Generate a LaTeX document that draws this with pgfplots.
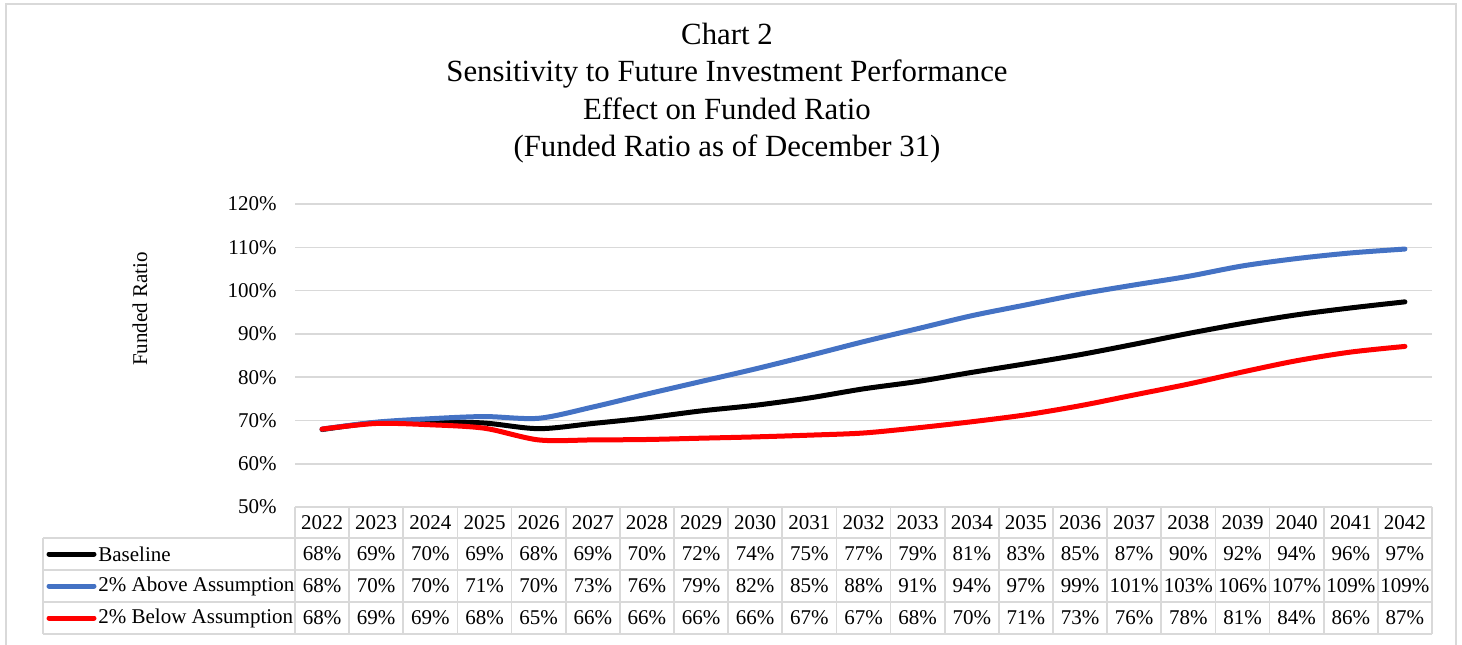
\documentclass[border=0pt]{standalone}
\usepackage{pgfplots}
\usepackage{pgfplotstable}
\pgfplotsset{compat=1.18}
\usepackage{fontspec}
\setmainfont{Liberation Serif}
\definecolor{gridgray}{HTML}{D9D9D9}
\definecolor{xlblue}{HTML}{4472C4}
\definecolor{xlred}{HTML}{FF0000}
\newcommand\tf{\fontsize{10.5}{12.6}\selectfont}
\newcommand\ttlf{\fontsize{15.4}{18}\selectfont}

\pgfplotstableread{
i year base above below
0 2022 67.9 68.0 68.0
1 2023 69.5 69.6 69.3
2 2024 69.7 70.4 69.0
3 2025 69.4 70.9 68.2
4 2026 68.1 70.5 65.5
5 2027 69.3 73.1 65.5
6 2028 70.6 76.1 65.6
7 2029 72.2 79.0 65.9
8 2030 73.5 81.9 66.2
9 2031 75.2 85.0 66.6
10 2032 77.3 88.2 67.1
11 2033 79.0 91.2 68.3
12 2034 81.1 94.2 69.7
13 2035 83.1 96.7 71.3
14 2036 85.2 99.2 73.4
15 2037 87.6 101.3 75.9
16 2038 90.1 103.3 78.4
17 2039 92.4 105.7 81.2
18 2040 94.4 107.4 83.8
19 2041 96.0 108.7 85.8
20 2042 97.4 109.6 87.1
}\data

\begin{document}
\begin{tikzpicture}
\begin{axis}[
  at={(147.5pt,-253.5pt)}, anchor=south west,
  scale only axis, width=568.5pt, height=151.5pt,
  xmin=-0.5, xmax=20.5, ymin=50, ymax=120,
  xtick=\empty,
  ytick={50,60,70,80,90,100,110,120},
  yticklabels={50\%,60\%,70\%,80\%,90\%,100\%,110\%,120\%},
  yticklabel style={font=\tf, anchor=east, inner sep=0pt, xshift=-9pt},
  /pgf/number format/assume math mode=true,
  ymajorgrids, grid style={gridgray, line width=0.8pt},
  axis line style={draw=none},
  major tick length=0pt,
  clip=false,
]
\addplot[black, line width=2.5pt, smooth, tension=0.5, line cap=round] table[x=i, y=base] {\data};
\addplot[xlblue, line width=2.5pt, smooth, tension=0.5, line cap=round] table[x=i, y=above] {\data};
\addplot[xlred, line width=2.5pt, smooth, tension=0.5, line cap=round] table[x=i, y=below] {\data};
\end{axis}

\begin{scope}[x=0.5pt, y=-0.5pt]
  % outer frame
  \draw[gridgray, line width=0.85pt] (6,660) -- (6,4) -- (1456,4) -- (1456,660);
  % title
  \node[anchor=base, inner sep=0, font=\ttlf] at (727,44) {Chart 2};
  \node[anchor=base, inner sep=0, font=\ttlf] at (727,81.5) {Sensitivity to Future Investment Performance};
  \node[anchor=base, inner sep=0, font=\ttlf] at (727,119) {Effect on Funded Ratio};
  \node[anchor=base, inner sep=0, font=\ttlf] at (727,156.5) {(Funded Ratio as of December 31)};
  % axis title
  \node[rotate=90, font=\tf] at (140,309) {Funded Ratio};
  % data table grid
  \begin{scope}[gridgray, line width=0.9pt]
    \draw (295,507) -- (1432,507);
    \foreach \yy in {538,570,602,634} \draw (43,\yy) -- (1432,\yy);
    \draw (43,538) -- (43,634);
    \foreach \k in {0,...,21} \draw ({295+54.142857*\k},507) -- ({295+54.142857*\k},634);
  \end{scope}
  % header years
  \foreach \yr [count=\k from 0] in {2022,2023,2024,2025,2026,2027,2028,2029,2030,2031,2032,2033,2034,2035,2036,2037,2038,2039,2040,2041,2042}
    \node[font=\tf] at ({322.07+54.142857*\k},522.5) {\yr};
  % rows
  \foreach \v [count=\k from 0] in {68,69,70,69,68,69,70,72,74,75,77,79,81,83,85,87,90,92,94,96,97}
    \node[font=\tf] at ({322.07+54.142857*\k},554) {\v\%};
  \foreach \v [count=\k from 0] in {68,70,70,71,70,73,76,79,82,85,88,91,94,97,99,101,103,106,107,109,109}
    \node[font=\tf] at ({322.07+54.142857*\k},586) {\v\%};
  \foreach \v [count=\k from 0] in {68,69,69,68,65,66,66,66,66,67,67,68,70,71,73,76,78,81,84,86,87}
    \node[font=\tf] at ({322.07+54.142857*\k},618) {\v\%};
  % legend keys
  \draw[black, line width=2.5pt, line cap=round] (49,554) -- (94,554);
  \node[anchor=west, inner sep=0, font=\tf] at (98,554) {Baseline};
  \draw[xlblue, line width=2.5pt, line cap=round] (49,586) -- (94,586);
  \node[anchor=west, inner sep=0, font=\tf] at (98,586) {2\% Above Assumption};
  \draw[xlred, line width=2.5pt, line cap=round] (49,618) -- (94,618);
  \node[anchor=west, inner sep=0, font=\tf] at (98,618) {2\% Below Assumption};
  \pgfresetboundingbox
  \useasboundingbox (0,0) rectangle (1462,644);
\end{scope}
\end{tikzpicture}
\end{document}
